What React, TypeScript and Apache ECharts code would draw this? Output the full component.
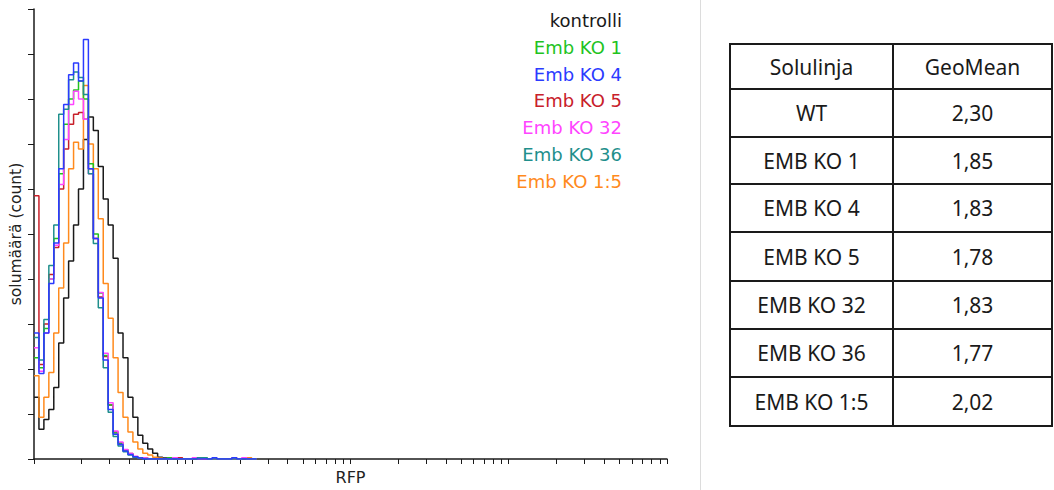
import React, { useEffect, useRef } from 'react';
import * as echarts from 'echarts';

// Histogram channels: 32 channels per decade on the RFP (log) axis, channel c starts at 10^(c/32)
const channelsPerDecade = 32;

const seriesNames = ['kontrolli', 'Emb KO 1', 'Emb KO 4', 'Emb KO 5', 'Emb KO 32', 'Emb KO 36', 'Emb KO 1:5'];
const seriesColors = ['#1a1a1a', '#22c31e', '#2b3bff', '#c8202a', '#ff45ff', '#1f8f8c', '#ff8a1c'];
// drawing order (last on top)
const drawOrder = [0, 6, 3, 1, 4, 5, 2];

// counts per channel (channels 0..44)
const kontrolli = [13.7, 6.6, 8.8, 11, 15.9, 25.8, 35.8, 44, 52, 60, 71, 76, 73, 65, 57.8, 52, 44.6, 28, 22.5, 13.7, 9.3, 5.3, 3.5, 2.2, 1.3, 0.4, 0.2, 0, 0, 0, 0, 0, 0, 0, 0, 0, 0, 0, 0, 0, 0, 0, 0, 0, 0];
const embKo1 = [22.5, 20.3, 29, 40, 49, 63.4, 74.4, 80, 82, 84, 80, 65.6, 50, 36.9, 23, 12, 5.8, 3.5, 2, 1.1, 0.5, 0.3, 0.2, 0, 0, 0, 0, 0.3, 0, 0, 0, 0, 0, 0, 0.3, 0, 0, 0, 0, 0, 0, 0, 0, 0, 0];
const embKo4 = [28, 19, 28, 39, 48, 64.5, 78.8, 85.4, 88, 84, 93.2, 64.5, 49, 35.8, 22, 11, 5.5, 3.2, 1.8, 1, 0.5, 0.2, 0, 0, 0, 0, 0, 0, 0, 0, 0, 0, 0, 0, 0, 0, 0.3, 0, 0, 0, 0.3, 0, 0, 0, 0];
const embKo5 = [58.5, 21, 30, 41, 47, 60, 68.9, 74.4, 76.6, 77, 75.5, 64.5, 49, 36, 22.8, 12, 6, 3.6, 2, 1.2, 0.5, 0.3, 0.2, 0, 0, 0, 0, 0, 0, 0.3, 0, 0, 0, 0, 0, 0, 0, 0, 0, 0, 0, 0, 0, 0, 0];
const embKo32 = [24.7, 19.5, 28, 40, 47.5, 61, 71, 78.8, 81.7, 80, 75.5, 63.4, 49, 37, 23.5, 12.5, 6.2, 3.8, 2.1, 1.2, 0.6, 0.3, 0.2, 0, 0, 0, 0, 0, 0.3, 0, 0, 0, 0.3, 0, 0, 0, 0, 0, 0, 0, 0, 0, 0.3, 0, 0];
const embKo36 = [27, 22, 31, 43, 52, 76.6, 77.7, 84.3, 86, 84.8, 81, 63.4, 47.9, 33.6, 20.3, 10.4, 5, 2.9, 1.6, 0.9, 0.4, 0.2, 0, 0, 0, 0, 0, 0, 0, 0, 0, 0, 0, 0.3, 0.3, 0, 0, 0, 0, 0, 0, 0, 0, 0, 0];
const embKo15 = [18.5, 9.3, 13.7, 19.2, 28, 38, 48, 64.5, 70.4, 68.9, 83, 70, 64.5, 53.4, 39, 31.3, 22.5, 14.8, 9.3, 6, 3.8, 2.2, 1.3, 0.9, 0.4, 0.2, 0, 0, 0, 0.3, 0, 0, 0, 0, 0, 0, 0, 0, 0, 0, 0.3, 0, 0, 0.3, 0];
const seriesCounts = [kontrolli, embKo1, embKo4, embKo5, embKo32, embKo36, embKo15];

// x axis tick positions (RFP)
const xTicks = [
  1, 2, 3, 4, 5, 6, 7, 8, 9,
  10, 20, 30, 40, 50, 60, 70, 80, 90,
  100, 200, 300, 400, 500, 600, 700, 800, 900,
  1000, 2000, 3000, 4000, 5000, 6000, 7000, 8000, 9000,
  10000,
];

// table
const tableHeader = ['Solulinja', 'GeoMean'];
const cellLines = ['WT', 'EMB KO 1', 'EMB KO 4', 'EMB KO 5', 'EMB KO 32', 'EMB KO 36', 'EMB KO 1:5'];
const geoMeans = ['2,30', '1,85', '1,83', '1,78', '1,83', '1,77', '2,02'];

function buildSeriesData(counts: number[]): [number, number][] {
  const out: [number, number][] = counts.map((v, c) => [Math.pow(10, c / channelsPerDecade), v]);
  out.push([Math.pow(10, counts.length / channelsPerDecade), 0]);
  return out;
}

export default function App() {
  const ref = useRef<HTMLDivElement>(null);
  useEffect(() => {
    if (!ref.current) return;
    const chart = echarts.init(ref.current, null, { renderer: 'svg' });

    const series = drawOrder.map((i) => ({
      name: seriesNames[i],
      type: 'line',
      step: 'end',
      showSymbol: false,
      symbol: 'none',
      data: buildSeriesData(seriesCounts[i]),
      lineStyle: { color: seriesColors[i], width: 1.5 },
      itemStyle: { color: seriesColors[i] },
      silent: true,
    }));

    const graphics: any[] = [];
    // legend texts (right aligned)
    seriesNames.forEach((n, i) => {
      graphics.push({
        type: 'text',
        x: 622,
        y: 20.5 + i * 26.8,
        style: {
          text: n,
          fill: seriesColors[i],
          font: '18px "DejaVu Sans"',
          textAlign: 'right',
          textVerticalAlign: 'middle',
        },
      });
    });
    // separator line
    graphics.push({
      type: 'line',
      shape: { x1: 700.5, y1: 0, x2: 700.5, y2: 490 },
      style: { stroke: '#dcdcdc', lineWidth: 1 },
    });
    // table
    const tLeft = 730, tMid = 893, tRight = 1052;
    const rowYs = [44, 89, 137, 184, 232, 281, 329, 377, 426];
    rowYs.forEach((y) => {
      graphics.push({ type: 'line', shape: { x1: tLeft - 1, y1: y, x2: tRight + 1, y2: y }, style: { stroke: '#1a1a1a', lineWidth: 2 } });
    });
    [tLeft, tMid, tRight].forEach((x) => {
      graphics.push({ type: 'line', shape: { x1: x, y1: rowYs[0], x2: x, y2: rowYs[rowYs.length - 1] }, style: { stroke: '#1a1a1a', lineWidth: 2 } });
    });
    const rows = [tableHeader, ...cellLines.map((c, i) => [c, geoMeans[i]])];
    rows.forEach((r, ri) => {
      const yc = (rowYs[ri] + rowYs[ri + 1]) / 2;
      [(tLeft + tMid) / 2, (tMid + tRight) / 2].forEach((xc, ci) => {
        graphics.push({
          type: 'text',
          x: xc,
          y: yc,
          style: {
            text: r[ci],
            fill: '#1a1a1a',
            font: '21px "Noto Sans"',
            textAlign: 'center',
            textVerticalAlign: 'middle',
          },
        });
      });
    });

    chart.setOption({
      animation: false,
      backgroundColor: '#ffffff',
      grid: { left: 34, right: 1054 - 667, top: 9, bottom: 490 - 462, containLabel: false },
      xAxis: {
        type: 'log',
        logBase: 10,
        min: 1,
        max: 10000,
        name: 'RFP',
        nameLocation: 'middle',
        nameGap: 10,
        nameTextStyle: { fontFamily: 'DejaVu Sans', fontSize: 16, color: '#222', verticalAlign: 'top' },
        axisLine: { show: true, lineStyle: { color: '#1a1a1a', width: 1.5 } },
        axisTick: { show: true, customValues: xTicks, length: 5, inside: false, lineStyle: { color: '#1a1a1a', width: 1 } },
        axisLabel: { show: false },
        splitLine: { show: false },
        minorTick: { show: false },
      },
      yAxis: {
        type: 'value',
        min: 0,
        max: 100,
        interval: 10,
        name: 'solumäärä (count)',
        nameLocation: 'middle',
        nameGap: 10,
        nameRotate: 90,
        nameTextStyle: { fontFamily: 'DejaVu Sans', fontSize: 15.5, color: '#222' },
        axisLine: { show: true, lineStyle: { color: '#1a1a1a', width: 1.5 } },
        axisTick: { show: true, length: 6, inside: false, lineStyle: { color: '#1a1a1a', width: 1 } },
        axisLabel: { show: false },
        splitLine: { show: false },
      },
      series,
      graphic: graphics,
    });
    return () => chart.dispose();
  }, []);
  return <div ref={ref} style={{ position: 'fixed', left: 0, top: 0, width: 1054, height: 490, background: '#fff' }} />;
}
